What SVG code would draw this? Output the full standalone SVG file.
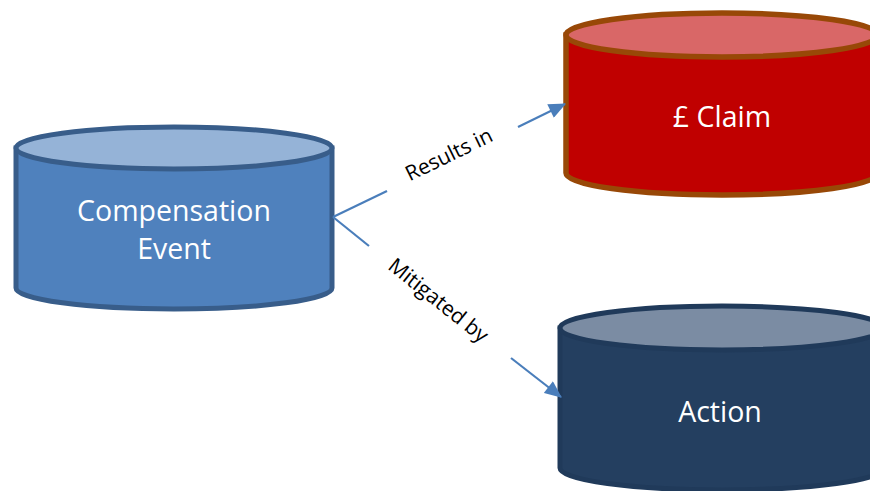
<svg xmlns="http://www.w3.org/2000/svg" width="870" height="491" viewBox="0 0 870 491">
<defs>
<style>
.lbl{font-family:"Open Sans","Liberation Sans",sans-serif;font-size:28.5px;fill:#ffffff;text-anchor:middle}
.elbl{font-family:"Open Sans","Liberation Sans",sans-serif;font-size:21px;fill:#000000;text-anchor:middle}
.conn{stroke:#4A7EBB;stroke-width:2.2;fill:none}
</style>
<marker id="arrow" viewBox="0 0 16 14" refX="15" refY="7" markerWidth="18" markerHeight="15" markerUnits="userSpaceOnUse" orient="auto">
<path d="M0,0 L16,7 L0,14 Z" fill="#4A7EBB"/>
</marker>
</defs>
<rect width="870" height="491" fill="#ffffff"/>
<g id="node-compensation">
<path d="M16,148 L16,288 A158,21 0 0 0 332,288 L332,148 Z" fill="#4F81BD" stroke="#385D8A" stroke-width="5"/>
<ellipse cx="174" cy="148" rx="158" ry="21" fill="#95B3D7" stroke="#385D8A" stroke-width="5"/>
<text class="lbl" x="174" y="221">Compensation</text>
<text class="lbl" x="174" y="259">Event</text>
</g>
<g id="node-claim">
<path d="M566,35 L566,173 A156,22 0 0 0 878,173 L878,35 Z" fill="#C00000" stroke="#984807" stroke-width="5.5"/>
<ellipse cx="722" cy="35" rx="156" ry="22" fill="#D96767" stroke="#984807" stroke-width="5.5"/>
<text class="lbl" x="722" y="127">£ Claim</text>
</g>
<g id="node-action">
<path d="M560,328 L560,468 A162,22 0 0 0 884,468 L884,328 Z" fill="#243F60" stroke="#203A5A" stroke-width="5"/>
<ellipse cx="722" cy="328" rx="162" ry="22" fill="#7B8CA3" stroke="#203A5A" stroke-width="5"/>
<text class="lbl" x="720" y="422">Action</text>
</g>
<g id="connectors">
<line class="conn" x1="333" y1="217" x2="387" y2="191"/>
<line class="conn" x1="518" y1="127" x2="565" y2="104" marker-end="url(#arrow)"/>
<text class="elbl" transform="translate(452,161) rotate(-26)">Results in</text>
<line class="conn" x1="333" y1="217" x2="369" y2="246"/>
<line class="conn" x1="511" y1="358" x2="561" y2="397" marker-end="url(#arrow)"/>
<text class="elbl" transform="translate(434,306) rotate(38.5)">Mitigated by</text>
</g>
</svg>
